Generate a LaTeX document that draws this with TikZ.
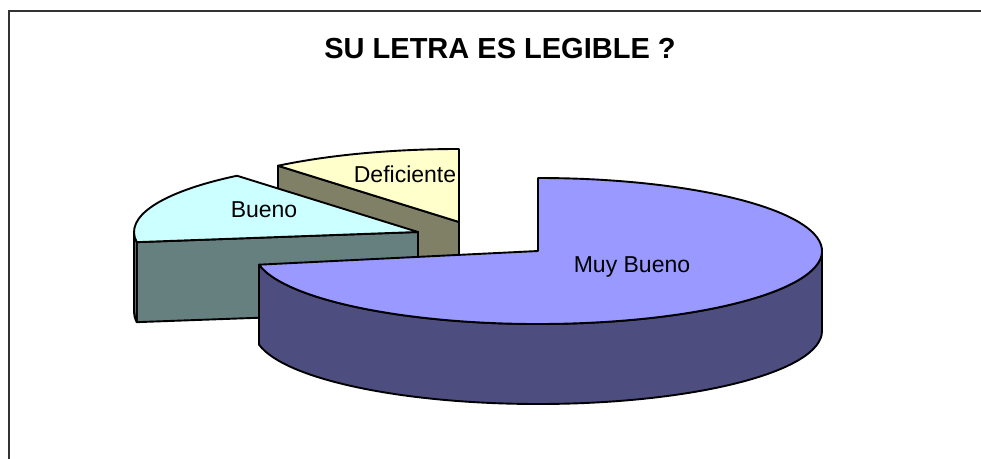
\documentclass[tikz,border=0pt]{standalone}
\usepackage{fontspec}
\setmainfont{Liberation Sans}
\usepackage{tikz}

\definecolor{mbtop}{HTML}{9999FF}
\definecolor{mbside}{HTML}{4D4D80}
\definecolor{btop}{HTML}{CCFFFF}
\definecolor{bside}{HTML}{668080}
\definecolor{dtop}{HTML}{FFFFCC}
\definecolor{dside}{HTML}{808066}

\begin{document}
\begin{tikzpicture}
                        [x=1pt,y=1pt,
                         face/.style={draw=black,line width=1.9pt,line join=round},
                         lbl/.style={anchor=base,inner sep=0pt,font=\fontsize{23}{27}\selectfont}]
                        \useasboundingbox (0,0) rectangle (981,458);
                        \draw[black!80,line width=2pt] (8.5,-5) |- (990,446.5);
                        \node[anchor=base,inner sep=0pt,font=\fontsize{29}{34}\selectfont\bfseries] (title) at (500,399.7) {SU LETRA ES LEGIBLE ?};
                        % Deficiente
                        \begin{scope}[shift={(459,236)}]
                        \fill[dside,face] (0,0) -- (129.6:284 and 73) -- ++(0,-80) -- (0,-80) -- cycle;
                        \fill[dtop,face] (0,0) -- (90:284 and 73) arc[start angle=90,end angle=129.6,x radius=284,y radius=73] -- cycle;
                        \end{scope}
                        % Bueno
                        \begin{scope}[shift={(418,226)}]
                        \fill[bside,face] (0,0) -- (188:284 and 73) -- ++(0,-80) -- (0,-80) -- cycle;
                        \fill[bside,face] (180:284 and 73) arc[start angle=180,end angle=188,x radius=284,y radius=73] -- ++(0,-80) arc[start angle=188,end angle=180,x radius=284,y radius=73] -- cycle;
                        \fill[btop,face] (0,0) -- (129.6:284 and 73) arc[start angle=129.6,end angle=188,x radius=284,y radius=73] -- cycle;
                        \end{scope}
                        % Muy Bueno
                        \begin{scope}[shift={(538,207)}]
                        \fill[mbside,face] (190.8:284 and 73) arc[start angle=190.8,end angle=360,x radius=284,y radius=73] -- ++(0,-80) arc[start angle=360,end angle=190.8,x radius=284,y radius=73] -- cycle;
                        \fill[mbtop,face] (0,0) -- (190.8:284 and 73) arc[start angle=190.8,end angle=450,x radius=284,y radius=73] -- cycle;
                        \end{scope}
                        \node[lbl] (d) at (405,275) {Deficiente};
                        \node[lbl] (b) at (264,240) {Bueno};
                        \node[lbl] (mb) at (632,185.7) {Muy Bueno};
                    \end{tikzpicture}
\end{document}
